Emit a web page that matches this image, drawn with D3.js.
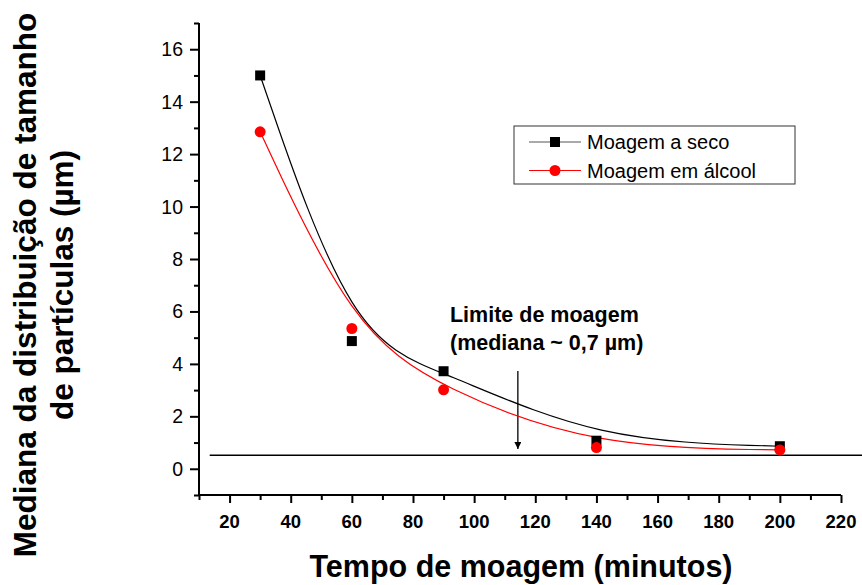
<!DOCTYPE html>
<html>
<head>
<meta charset="utf-8">
<script src="https://cdn.jsdelivr.net/npm/d3@7"></script>
<style>
    body { margin: 0; background: #fff; }
    svg { display: block; font-family: Arial, "Liberation Sans", sans-serif; }
</style>
</head>
<body>
<svg id="chart"></svg>
<script>
// measured points (minutes, median size in µm)
const times = [30, 60, 90, 140, 200];
const drySizes = [15.0, 4.87, 3.72, 1.07, 0.86];
const alcoholSizes = [12.85, 5.35, 3.01, 0.81, 0.72];
const seriesNames = ["Moagem a seco", "Moagem em álcool"];
const seriesColors = ["#000000", "#ff0000"];

const xTicks = [20, 40, 60, 80, 100, 120, 140, 160, 180, 200, 220];
const yTicks = [0, 2, 4, 6, 8, 10, 12, 14, 16];

// limit line and arrow (axis units)
const limitY = 0.52;
const limitX = [13.5, 228];
const arrowX = 114.3;
const arrowY = [3.73, 0.75];
const noteLines = ["Limite de moagem", "(mediana ~ 0,7 µm)"];

const width = 862;
const height = 585;
const margin = { top: 23, right: 21, bottom: 90, left: 199 };
const innerWidth = width - margin.left - margin.right;
const innerHeight = height - margin.top - margin.bottom;

const svg = d3.select("#chart")
    .attr("width", width)
    .attr("height", height);

const g = svg.append("g")
    .attr("transform", `translate(${margin.left},${margin.top})`);

const x = d3.scaleLinear().domain([10, 220]).range([0, innerWidth]);
const y = d3.scaleLinear().domain([-1, 17]).range([innerHeight, 0]);

// axes (ticks only, labels drawn separately)
const xAxis = g.append("g")
    .attr("transform", `translate(0,${innerHeight})`)
    .call(d3.axisBottom(x).tickValues(d3.range(10, 221, 10)).tickSize(8).tickFormat(""));
xAxis.selectAll("line").attr("stroke-width", 2).attr("y2", d => d % 20 === 0 ? 8 : 5);
xAxis.select(".domain").attr("stroke-width", 2).attr("d", `M0,0H${innerWidth}`);

const yAxis = g.append("g")
    .call(d3.axisLeft(y).tickValues(d3.range(-1, 18, 1)).tickSize(9).tickFormat(""));
yAxis.selectAll("line").attr("stroke-width", 2).attr("x2", d => d % 2 === 0 ? -9 : -5);
yAxis.select(".domain").attr("stroke-width", 2).attr("d", `M0,0V${innerHeight}`);

const labels = g.append("g")
    .style("font-family", "Arial, 'Liberation Sans', sans-serif")
    .attr("fill", "#000");

labels.selectAll(".xlabel")
    .data(xTicks)
    .enter().append("text")
    .attr("class", "xlabel")
    .attr("x", d => x(d))
    .attr("y", innerHeight + 33)
    .attr("text-anchor", "middle")
    .style("font-size", "18.5px")
    .style("font-weight", "bold")
    .text(d => d);

labels.selectAll(".ylabel")
    .data(yTicks)
    .enter().append("text")
    .attr("class", "ylabel")
    .attr("x", -16)
    .attr("y", d => y(d))
    .attr("dy", "0.36em")
    .attr("text-anchor", "end")
    .style("font-size", "19.5px")
    .text(d => d);

// limit line
g.append("line")
    .attr("x1", x(limitX[0])).attr("x2", x(limitX[1]))
    .attr("y1", y(limitY)).attr("y2", y(limitY))
    .attr("stroke", "#000").attr("stroke-width", 1.5);

// arrow
svg.append("defs").append("marker")
    .attr("id", "head")
    .attr("viewBox", "0 0 10 10")
    .attr("refX", 10).attr("refY", 5)
    .attr("markerWidth", 13).attr("markerHeight", 7)
    .attr("markerUnits", "userSpaceOnUse")
    .attr("orient", "auto")
    .append("path").attr("d", "M0,0L10,5L0,10Z").attr("fill", "#000");

g.append("line")
    .attr("x1", x(arrowX)).attr("x2", x(arrowX))
    .attr("y1", y(arrowY[0])).attr("y2", y(arrowY[1]))
    .attr("stroke", "#000").attr("stroke-width", 1.3)
    .attr("marker-end", "url(#head)");

g.selectAll(".note")
    .data(noteLines)
    .enter().append("text")
    .attr("x", x(92.1))
    .attr("y", (d, i) => y(5.6) + i * 28.5)
    .style("font-size", "21.5px")
    .style("font-weight", "bold")
    .text(d => d);

// B-spline connecting lines + points
const allSeries = [drySizes, alcoholSizes];
allSeries.forEach((vals, k) => {
    g.append("path")
        .datum(times.map((t, i) => [t, vals[i]]))
        .attr("fill", "none")
        .attr("stroke", seriesColors[k])
        .attr("stroke-width", 1.2)
        .attr("d", d3.line().x(d => x(d[0])).y(d => y(d[1])).curve(d3.curveBasis));
});

g.selectAll(".sq")
    .data(times.map((t, i) => ({ t, v: drySizes[i] })))
    .enter().append("rect")
    .attr("x", d => x(d.t) - 5)
    .attr("y", d => y(d.v) - 5)
    .attr("width", 10).attr("height", 10)
    .attr("fill", seriesColors[0]);

g.selectAll(".dot")
    .data(times.map((t, i) => ({ t, v: alcoholSizes[i] })))
    .enter().append("circle")
    .attr("cx", d => x(d.t))
    .attr("cy", d => y(d.v))
    .attr("r", 5.5)
    .attr("fill", seriesColors[1]);

// legend
const legend = svg.append("g").attr("transform", "translate(514,126)");
legend.append("rect")
    .attr("width", 281).attr("height", 58)
    .attr("fill", "#fff").attr("stroke", "#333").attr("stroke-width", 1);
seriesNames.forEach((name, i) => {
    const ly = 16 + i * 28.5;
    legend.append("line")
        .attr("x1", 15).attr("x2", 67)
        .attr("y1", ly).attr("y2", ly)
        .attr("stroke", i === 0 ? "#555" : seriesColors[1]).attr("stroke-width", 1);
    if (i === 0) {
        legend.append("rect").attr("x", 36).attr("y", ly - 5).attr("width", 10).attr("height", 10).attr("fill", "#000");
    } else {
        legend.append("circle").attr("cx", 41).attr("cy", ly).attr("r", 5.5).attr("fill", seriesColors[1]);
    }
    legend.append("text")
        .attr("x", 73).attr("y", ly + 7)
        .style("font-size", "20px")
        .text(name);
});

// axis titles
svg.append("text")
    .attr("x", 521).attr("y", 577)
    .attr("text-anchor", "middle")
    .style("font-size", "30.5px")
    .style("font-weight", "bold")
    .text("Tempo de moagem (minutos)");

const yTitle = svg.append("text")
    .attr("transform", "translate(36,285) rotate(-90)")
    .attr("text-anchor", "middle")
    .style("font-size", "31.5px")
    .style("font-weight", "bold");
yTitle.append("tspan").attr("x", 0).attr("y", 0).text("Mediana da distribuição de tamanho");
yTitle.append("tspan").attr("x", 0).attr("y", 37).text("de partículas (µm)");
</script>
</body>
</html>
